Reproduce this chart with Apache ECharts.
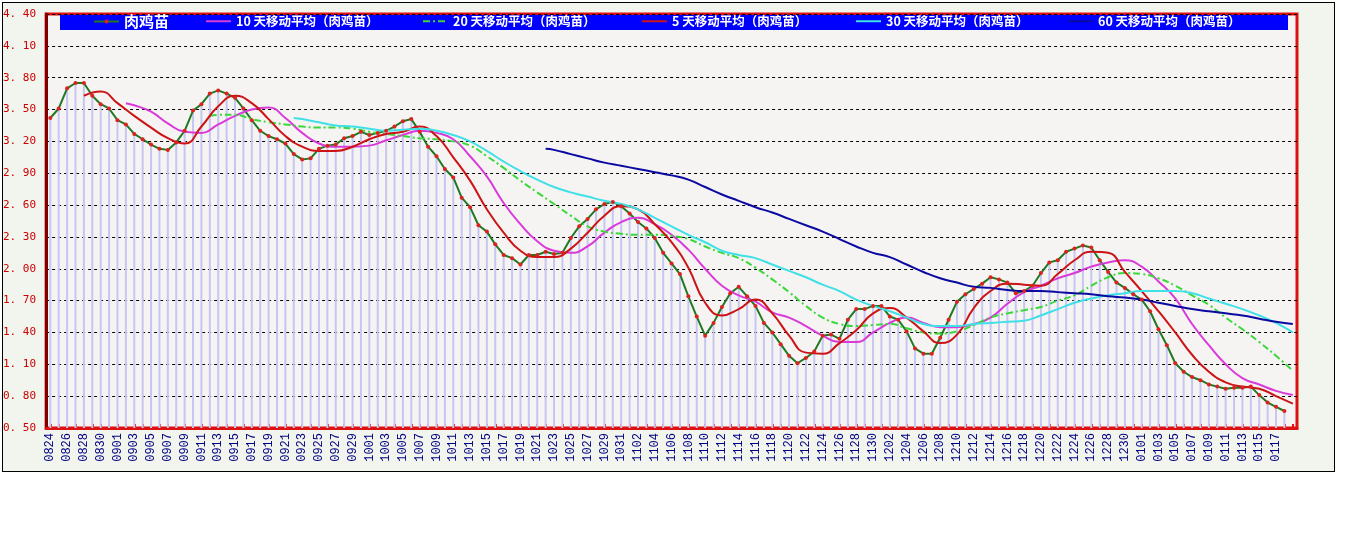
<!DOCTYPE html>
<html>
<head>
<meta charset="utf-8">
<script src="https://cdn.jsdelivr.net/npm/echarts@6/dist/echarts.min.js"></script>
<style>
  html, body { margin: 0; padding: 0; background: #ffffff; }
  #frame { position: absolute; left: 2px; top: 2px; width: 1331px; height: 468px; border: 1px solid #000; background: #f2f4ee; }
  #chart { position: absolute; left: 0; top: 0; width: 1345px; height: 541px; }
</style>
</head>
<body>
<div id="frame"></div>
<div id="chart"></div>
<script>
// ---- categories (daily dates) ----
const augDates = '0824 0825 0826 0827 0828 0829 0830 0831'.split(' ');
const sepDates = '0901 0902 0903 0904 0905 0906 0907 0908 0909 0910 0911 0912 0913 0914 0915 0916 0917 0918 0919 0920 0921 0922 0923 0924 0925 0926 0927 0928 0929 0930'.split(' ');
const octDates = '1001 1002 1003 1004 1005 1006 1007 1008 1009 1010 1011 1012 1013 1014 1015 1016 1017 1018 1019 1020 1021 1022 1023 1024 1025 1026 1027 1028 1029 1030 1031'.split(' ');
const novDates = '1101 1102 1103 1104 1105 1106 1107 1108 1109 1110 1111 1112 1113 1114 1115 1116 1117 1118 1119 1120 1121 1122 1123 1124 1125 1126 1127 1128 1129 1130'.split(' ');
const decDates = '1201 1202 1203 1204 1205 1206 1207 1208 1209 1210 1211 1212 1213 1214 1215 1216 1217 1218 1219 1220 1221 1222 1223 1224 1225 1226 1227 1228 1229 1230 1231'.split(' ');
const janDates = '0101 0102 0103 0104 0105 0106 0107 0108 0109 0110 0111 0112 0113 0114 0115 0116 0117 0118 0119'.split(' ');
const dates = [].concat(augDates, sepDates, octDates, novDates, decDates, janDates);

// ---- y axis ticks ----
const yMin = 0.5, yMax = 4.4, yStep = 0.3;

// ---- 肉鸡苗 daily price ----
const price = [
  3.42,3.51,3.70,3.75,3.75,3.63,3.55,3.51,3.40,3.36,
  3.27,3.22,3.17,3.13,3.12,3.19,3.30,3.49,3.55,3.65,
  3.68,3.65,3.61,3.51,3.40,3.30,3.25,3.22,3.18,3.08,
  3.03,3.04,3.13,3.16,3.17,3.23,3.25,3.29,3.26,3.28,
  3.30,3.34,3.39,3.41,3.29,3.15,3.06,2.94,2.86,2.67,
  2.58,2.41,2.35,2.23,2.13,2.10,2.04,2.13,2.13,2.16,
  2.14,2.15,2.29,2.40,2.47,2.56,2.61,2.63,2.59,2.52,
  2.44,2.38,2.29,2.15,2.05,1.95,1.74,1.55,1.37,1.49,
  1.64,1.77,1.83,1.74,1.65,1.49,1.40,1.29,1.18,1.11,
  1.16,1.22,1.37,1.38,1.34,1.52,1.62,1.62,1.65,1.65,
  1.55,1.52,1.41,1.25,1.20,1.20,1.35,1.52,1.69,1.76,
  1.81,1.86,1.92,1.90,1.87,1.77,1.79,1.84,1.96,2.06,
  2.08,2.16,2.19,2.22,2.20,2.08,1.97,1.87,1.82,1.76,
  1.71,1.60,1.43,1.28,1.11,1.03,0.98,0.95,0.91,0.89,
  0.87,0.88,0.88,0.89,0.81,0.74,0.70,0.66
];

// ---- moving averages: [day number, value] ----
const ma5 = [[4,3.63],[6,3.67],[8,3.56],[10,3.44],[12,3.33],[14,3.23],[16,3.18],[18,3.34],[20,3.53],[22,3.63],[24,3.56],[26,3.41],[28,3.25],[30,3.15],[32,3.11],[34,3.11],[36,3.15],[38,3.22],[40,3.27],[42,3.29],[44,3.34],[46,3.25],[48,3.05],[50,2.83],[52,2.56],[54,2.34],[56,2.17],[58,2.11],[60,2.11],[62,2.19],[64,2.34],[66,2.50],[68,2.59],[70,2.56],[72,2.42],[74,2.25],[76,2.01],[78,1.68],[80,1.56],[82,1.62],[84,1.71],[86,1.58],[88,1.37],[90,1.21],[92,1.20],[94,1.30],[96,1.42],[98,1.58],[100,1.63],[102,1.54],[104,1.41],[106,1.30],[108,1.38],[110,1.63],[112,1.79],[114,1.86],[116,1.85],[118,1.84],[120,1.95],[122,2.08],[124,2.16],[126,2.15],[128,1.97],[130,1.79],[132,1.60],[134,1.40],[136,1.19],[138,1.03],[140,0.93],[142,0.89],[144,0.87],[146,0.80],[148,0.73]];
const ma10 = [[9,3.56],[10,3.54],[12,3.48],[14,3.37],[16,3.29],[18,3.28],[20,3.36],[22,3.44],[24,3.50],[26,3.52],[28,3.42],[30,3.28],[32,3.18],[34,3.15],[36,3.15],[38,3.16],[40,3.21],[42,3.26],[44,3.30],[46,3.28],[48,3.22],[50,3.06],[52,2.87],[54,2.62],[56,2.42],[58,2.26],[60,2.17],[62,2.15],[64,2.21],[66,2.34],[68,2.44],[70,2.48],[72,2.42],[74,2.32],[76,2.18],[78,2.00],[80,1.84],[82,1.75],[84,1.69],[86,1.59],[88,1.54],[90,1.46],[92,1.37],[94,1.31],[96,1.31],[98,1.40],[100,1.49],[102,1.54],[104,1.49],[106,1.45],[108,1.45],[110,1.48],[112,1.54],[114,1.67],[116,1.78],[118,1.84],[120,1.91],[122,1.96],[124,2.02],[126,2.06],[128,2.08],[130,2.02],[132,1.88],[134,1.72],[136,1.48],[138,1.28],[140,1.10],[142,0.97],[144,0.91],[146,0.85],[148,0.81]];
const ma20 = [[19,3.44],[20,3.45],[22,3.45],[24,3.41],[26,3.38],[28,3.36],[30,3.34],[32,3.33],[34,3.33],[36,3.32],[38,3.29],[40,3.27],[42,3.25],[44,3.23],[46,3.22],[48,3.20],[50,3.16],[52,3.06],[54,2.95],[56,2.83],[58,2.72],[60,2.61],[62,2.50],[64,2.40],[66,2.35],[68,2.33],[70,2.32],[72,2.32],[74,2.31],[76,2.28],[78,2.21],[80,2.15],[82,2.10],[84,2.01],[86,1.90],[88,1.78],[90,1.65],[92,1.54],[94,1.48],[96,1.46],[98,1.47],[100,1.48],[102,1.44],[104,1.40],[106,1.39],[108,1.41],[110,1.47],[112,1.54],[114,1.58],[116,1.61],[118,1.64],[120,1.70],[122,1.75],[124,1.84],[126,1.92],[128,1.96],[130,1.95],[132,1.91],[134,1.84],[136,1.75],[138,1.66],[140,1.54],[142,1.43],[144,1.31],[146,1.18],[148,1.04]];
const ma30 = [[29,3.42],[30,3.41],[32,3.38],[34,3.35],[36,3.34],[38,3.32],[40,3.30],[42,3.31],[44,3.32],[46,3.30],[48,3.26],[50,3.20],[52,3.11],[54,3.01],[56,2.92],[58,2.84],[60,2.77],[62,2.72],[64,2.68],[66,2.64],[68,2.61],[70,2.56],[72,2.48],[74,2.40],[76,2.32],[78,2.25],[80,2.17],[82,2.13],[84,2.10],[86,2.04],[88,1.98],[90,1.92],[92,1.85],[94,1.79],[96,1.71],[98,1.65],[100,1.60],[102,1.54],[104,1.48],[106,1.46],[108,1.46],[110,1.48],[112,1.49],[114,1.50],[116,1.51],[118,1.56],[120,1.62],[122,1.68],[124,1.72],[126,1.75],[128,1.77],[130,1.79],[132,1.79],[134,1.79],[136,1.77],[138,1.72],[140,1.67],[142,1.62],[144,1.56],[146,1.49],[148,1.40]];
const ma60 = [[59,3.13],[60,3.12],[62,3.08],[64,3.04],[66,3.00],[68,2.97],[70,2.94],[72,2.91],[74,2.88],[76,2.84],[78,2.77],[80,2.70],[82,2.64],[84,2.58],[86,2.53],[88,2.47],[90,2.41],[92,2.35],[94,2.28],[96,2.21],[98,2.15],[100,2.11],[102,2.04],[104,1.97],[106,1.91],[108,1.87],[110,1.83],[112,1.82],[114,1.80],[116,1.79],[118,1.79],[120,1.78],[122,1.77],[124,1.76],[126,1.74],[128,1.73],[130,1.71],[132,1.68],[134,1.65],[136,1.62],[138,1.60],[140,1.58],[142,1.56],[144,1.53],[146,1.50],[148,1.48]];

// ---- series names ----
const nameMain = '肉鸡苗';
const name10 = '10 天移动平均（肉鸡苗）';
const name20 = '20 天移动平均（肉鸡苗）';
const name5 = '5 天移动平均（肉鸡苗）';
const name30 = '30 天移动平均（肉鸡苗）';
const name60 = '60 天移动平均（肉鸡苗）';

const toData = arr => arr.map(([d, v]) => [dates[d], v]);

const legendText = { color: '#ffffff', fontWeight: 'bold', fontSize: 12.5, fontFamily: '"Noto Sans CJK SC", sans-serif' };
const mkLegend = (name, left, opts) => Object.assign({
  orient: 'horizontal', padding: 0, itemGap: 0, itemWidth: 25, itemHeight: 12, top: 15,
  selectedMode: false, data: [name], left: left,
  itemStyle: { opacity: 0 },
  textStyle: legendText
}, opts || {});

const maLine = (name, arr, color, type) => ({
  name: name, type: 'line', data: toData(arr), smooth: true, connectNulls: true,
  showSymbol: false, symbol: 'none', z: 3,
  lineStyle: { color: color, width: 2, type: type || 'solid' },
  itemStyle: { color: color }
});

const chart = echarts.init(document.getElementById('chart'), null, { renderer: 'canvas' });
chart.setOption({
  animation: false,
  backgroundColor: 'transparent',
  grid: { left: 45, right: 48, top: 14, bottom: 113, show: true, backgroundColor: '#f6f3f3', borderColor: '#dd1111', borderWidth: 3 },
  graphic: [
    { type: 'rect', left: 60, top: 15, z: 3, silent: true, shape: { width: 1228, height: 15 }, style: { fill: '#0000ff' } }
  ],
  legend: [
    mkLegend(nameMain, 93, { itemHeight: 5, top: 14, itemStyle: { opacity: 1 }, textStyle: Object.assign({}, legendText, { fontSize: 15 }) }),
    mkLegend(name10, 205),
    mkLegend(name20, 422),
    mkLegend(name5, 641),
    mkLegend(name30, 855),
    mkLegend(name60, 1067)
  ],
  xAxis: {
    type: 'category', data: dates, boundaryGap: true,
    axisLine: { show: true, lineStyle: { color: '#dd1111', width: 3 } },
    axisTick: { show: true, inside: true, length: 4, interval: 0, alignWithLabel: true, lineStyle: { color: '#dd1111', width: 2 } },
    axisLabel: {
      rotate: 90, margin: 5, color: '#000080', fontSize: 12, fontFamily: '"Liberation Mono", monospace',
      interval: (idx) => idx % 2 === 0 && idx < price.length
    },
    splitLine: { show: false }
  },
  yAxis: {
    type: 'value', min: yMin, max: yMax, interval: yStep,
    axisLine: { show: true, lineStyle: { color: '#800000', width: 3 } },
    axisTick: { show: false },
    axisLabel: {
      color: '#cc0000', fontSize: 11, fontFamily: '"DejaVu Sans Mono", monospace', margin: 10,
      formatter: v => v.toFixed(2).replace('.', '. ')
    },
    splitLine: { show: true, lineStyle: { color: '#000000', width: 1, type: [3, 3] } }
  },
  series: [
    {
      name: 'bars', type: 'bar', data: price, barWidth: 2, silent: true, z: 1,
      itemStyle: { color: '#c6c6f2' }
    },
    {
      name: nameMain, type: 'line', data: price, z: 3,
      symbol: 'circle', symbolSize: 4, showSymbol: true, showAllSymbol: true,
      lineStyle: { color: '#207820', width: 2 },
      itemStyle: { color: '#e02020' }
    },
    maLine(name10, ma10, '#d93bd9'),
    maLine(name20, ma20, '#3ad83a', [7, 3, 2, 3]),
    maLine(name5, ma5, '#cc1414'),
    maLine(name30, ma30, '#3fe0e6'),
    maLine(name60, ma60, '#0a0aa0')
  ]
});
</script>
</body>
</html>
